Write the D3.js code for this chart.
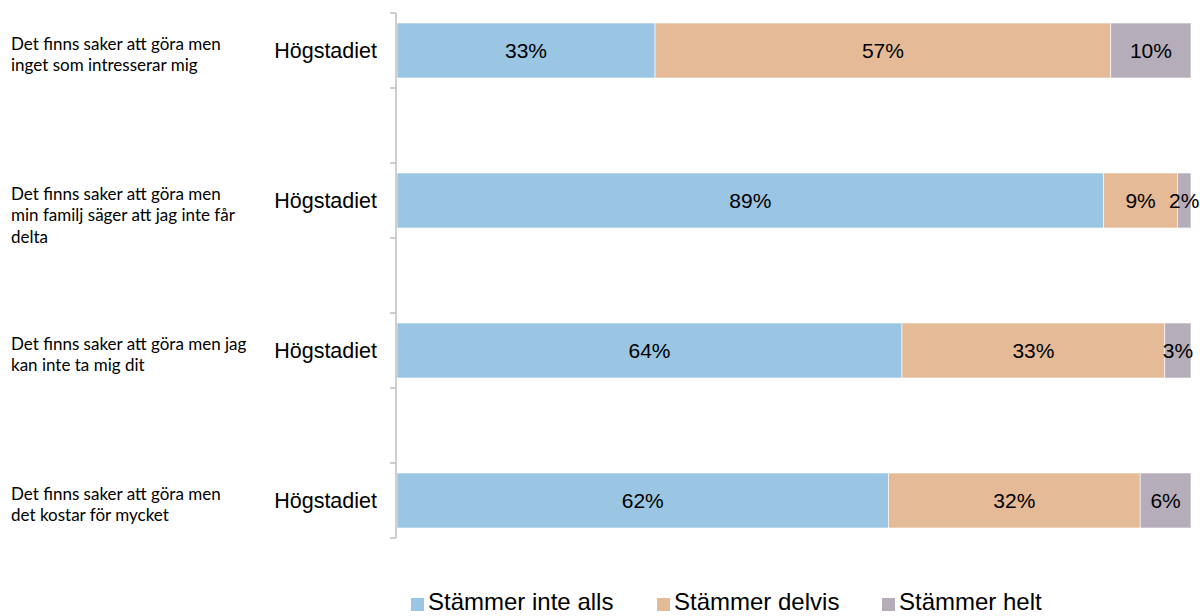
<!DOCTYPE html>
<html>
<head>
<meta charset="utf-8">
<script src="https://cdn.jsdelivr.net/npm/d3@7"></script>
<style>
  body { margin: 0; background: #fff; }
  svg { display: block; }
</style>
</head>
<body>
<div id="chart"></div>
<script>
const questions = [
  ['Det finns saker att göra men', 'inget som intresserar mig'],
  ['Det finns saker att göra men', 'min familj säger att jag inte får', 'delta'],
  ['Det finns saker att göra men jag', 'kan inte ta mig dit'],
  ['Det finns saker att göra men', 'det kostar för mycket']
]
const groups = ['Högstadiet', 'Högstadiet', 'Högstadiet', 'Högstadiet']
const seriesNames = ['Stämmer inte alls', 'Stämmer delvis', 'Stämmer helt']
const inteAlls = [32.5, 89.0, 63.6, 61.9]
const delvis = [57.4, 9.3, 33.1, 31.7]
const helt = [10.1, 1.7, 3.3, 6.4]
const colors = ['#9ac5e3', '#e4ba97', '#b5adba']

const width = 1200
const height = 616

const svg = d3.select('#chart').append('svg')
  .attr('width', width)
  .attr('height', height)

// 7 rows: every other row is an empty spacer row
const rows = d3.range(questions.length * 2 - 1)
const y = d3.scaleBand().domain(rows).range([13, 538])
const x = d3.scaleLinear().domain([0, 100]).range([397, 1191])

const barH = y.bandwidth() * 0.733

const data = questions.map((q, i) => ({
  q: q,
  group: groups[i],
  row: i * 2,
  values: [inteAlls[i], delvis[i], helt[i]]
}))

const stack = d3.stack().keys([0, 1, 2]).value((d, k) => d.values[k])
const layers = stack(data)

const layer = svg.selectAll('.layer')
  .data(layers)
  .enter().append('g')
    .attr('class', 'layer')
    .attr('fill', (d, i) => colors[i])

layer.selectAll('rect')
  .data(d => d)
  .enter().append('rect')
    .attr('x', d => x(d[0]))
    .attr('width', d => x(d[1]) - x(d[0]))
    .attr('y', d => y(d.data.row) + (y.bandwidth() - barH) / 2)
    .attr('height', barH)
    .attr('stroke', '#ffffff')
    .attr('stroke-width', 0.6)

layer.selectAll('text')
  .data(d => d)
  .enter().append('text')
    .attr('x', d => (x(d[0]) + x(d[1])) / 2)
    .attr('y', d => y(d.data.row) + y.bandwidth() / 2)
    .attr('dy', '0.36em')
    .attr('text-anchor', 'middle')
    .attr('font-family', 'Liberation Sans, Arial, sans-serif')
    .attr('font-size', 21)
    .attr('fill', '#000')
    .text(d => Math.round(d[1] - d[0]) + '%')

// axis
const axisG = svg.append('g').attr('stroke', '#bfbfbf').attr('stroke-width', 1.5)
axisG.append('line')
  .attr('x1', 396).attr('x2', 396)
  .attr('y1', y.range()[0]).attr('y2', y.range()[1])
const tickPos = rows.map(r => y(r)).concat([y.range()[1]])
axisG.selectAll('.tick')
  .data(tickPos)
  .enter().append('line')
    .attr('x1', 390).attr('x2', 396)
    .attr('y1', d => d).attr('y2', d => d)

// group labels
svg.selectAll('.grp')
  .data(data)
  .enter().append('text')
    .attr('x', 377)
    .attr('y', d => y(d.row) + y.bandwidth() / 2)
    .attr('dy', '0.36em')
    .attr('text-anchor', 'end')
    .attr('font-family', 'Liberation Sans, Arial, sans-serif')
    .attr('font-size', 21.5)
    .attr('fill', '#000')
    .text(d => d.group)

// question labels
const qText = svg.selectAll('.q')
  .data(data)
  .enter().append('text')
    .attr('font-family', 'Lato, sans-serif')
    .attr('font-size', 17)
    .attr('fill', '#000')

qText.selectAll('tspan')
  .data(d => d.q.map((line, j) => ({ line: line, j: j, row: d.row })))
  .enter().append('tspan')
    .attr('x', 11)
    .attr('y', d => y(d.row) + y.bandwidth() / 2 - 1 + d.j * 21.5)
    .text(d => d.line)

// legend
const legendX = [411, 657, 882]
const legend = svg.selectAll('.legend')
  .data(seriesNames)
  .enter().append('g')
    .attr('transform', (d, i) => 'translate(' + legendX[i] + ',0)')

legend.append('rect')
  .attr('x', 0).attr('y', 598)
  .attr('width', 13).attr('height', 13)
  .attr('fill', (d, i) => colors[i])

legend.append('text')
  .attr('x', 17).attr('y', 610)
  .attr('font-family', 'Liberation Sans, Arial, sans-serif')
  .attr('font-size', 24)
  .attr('fill', '#000')
  .text(d => d)
</script>
</body>
</html>
